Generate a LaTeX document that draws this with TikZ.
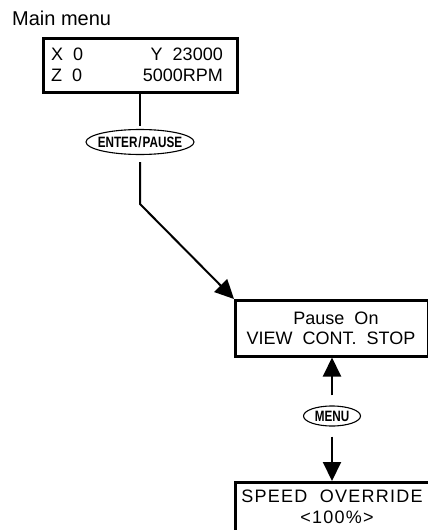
\documentclass[tikz,border=0pt]{standalone}
\usepackage{fontspec}
\setmainfont{Liberation Sans}
\newfontfamily\keyfont[FakeStretch=0.78]{Liberation Sans}
\newfontfamily\lcdfont[LetterSpace=7]{Liberation Sans}
\usetikzlibrary{arrows.meta,shapes.geometric}
\begin{document}
\begin{tikzpicture}[x=1pt,y=-1pt,
  panel/.style={draw, line width=2.5pt, inner sep=0pt},
  key/.style={draw, ellipse, line width=1.1pt, inner sep=0pt,
    font=\keyfont\bfseries\fontsize{15}{15}\selectfont},
  conn/.style={line width=2pt},
  arr/.style={conn, -{Triangle[length=19pt,width=18pt]}},
  txt/.style={inner sep=0pt, font=\fontsize{18}{18}\selectfont},
  lcd/.style={inner sep=0pt, font=\lcdfont\fontsize{18}{18}\selectfont}]
\useasboundingbox (0,0) rectangle (428,530);
% title
\node[txt, anchor=base west, font=\fontsize{20}{20}\selectfont] (title) at (12,25) {Main menu};
% panels
\node[panel, minimum width=194pt, minimum height=54pt, anchor=north west] (b1) at (42,37) {};
\node[panel, minimum width=193pt, minimum height=56pt, anchor=north west] (b2) at (234,299) {};
\node[panel, minimum width=210pt, minimum height=70pt, anchor=north west] (b3) at (234,481) {};
% panel texts
\node[txt, anchor=base west] (x0) at (51,60) {X~~0};
\node[txt, anchor=base west] (z0) at (51,81) {Z~~0};
\node[txt, anchor=base east] (y0) at (223,60) {Y~~23000};
\node[txt, anchor=base east] (rpm) at (223,81) {5000RPM};
\node[txt, anchor=base] (pause) at (336,324) {Pause~~On};
\node[txt, anchor=base] (view) at (331,344) {VIEW~~CONT.~~STOP};
\node[lcd, anchor=base] (speed) at (332,502) {SPEED~~OVERRIDE};
\node[lcd, anchor=base] (pct) at (337,523) {<100\%>};
% keys
\node[key, minimum width=108pt, minimum height=25pt] (e1) at (140,142) {\makebox[0pt]{ENTER\kern1pt/\kern1pt PAUSE}};
\node[key, minimum width=57pt, minimum height=20pt] (e2) at (332,416) {\makebox[0pt]{MENU}};
% connectors
\coordinate (bend) at (140,204);
\draw[conn] (b1.south -| e1) -- ([yshift=3pt]e1.north);
\draw[arr] ([yshift=-7pt]e1.south) -- (bend) -- (b2.north west);
\draw[arr] ([yshift=10pt]e2.north) -- (e2.north |- b2.south);
\draw[arr] ([yshift=-10pt]e2.south) -- (e2.south |- b3.north);
\end{tikzpicture}
\end{document}
